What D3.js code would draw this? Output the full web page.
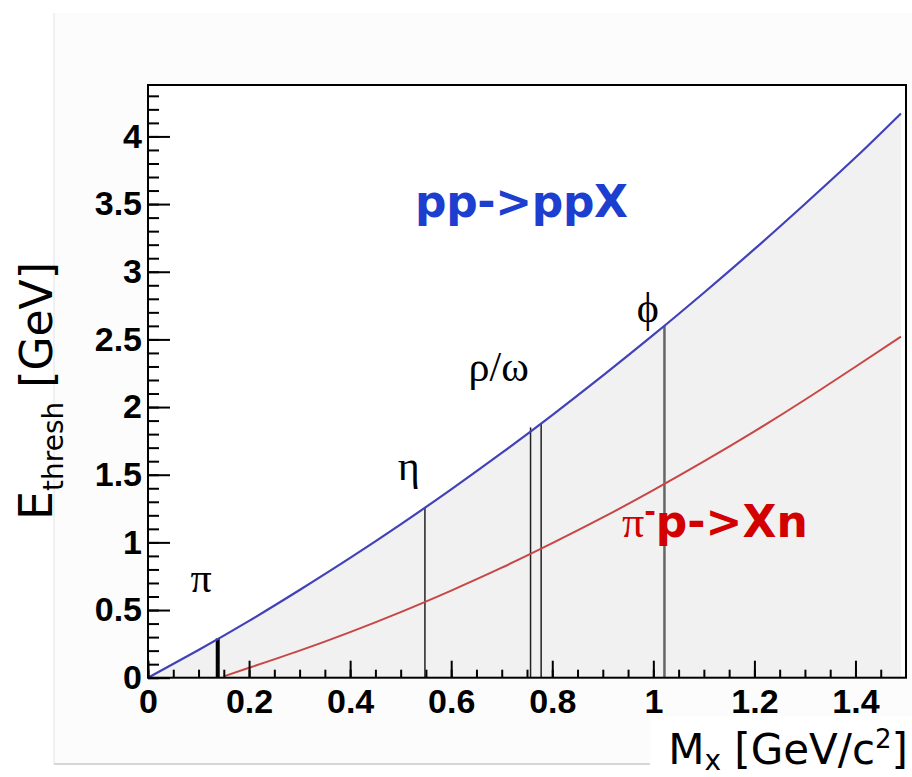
<!DOCTYPE html>
<html>
<head>
<meta charset="utf-8">
<script src="https://cdn.jsdelivr.net/npm/d3@7"></script>
<style>
  body { margin: 0; background: #fff; }
  svg { display: block; }
</style>
</head>
<body>
<div id="chart"></div>
<script>
// threshold kinetic energy vs produced mass
const ppMass = [0, 0.1, 0.2, 0.3, 0.4, 0.5, 0.6, 0.7, 0.8, 0.9, 1.0, 1.1, 1.2, 1.3, 1.4, 1.49];
const ppThresh = [0, 0.205, 0.42, 0.648, 0.885, 1.133, 1.392, 1.661, 1.941, 2.232, 2.533, 2.845, 3.167, 3.501, 3.844, 4.17];

const pimMass = [0.15, 0.2, 0.3, 0.4, 0.5, 0.6, 0.7, 0.8, 0.9, 1.0, 1.1, 1.2, 1.3, 1.4, 1.49];
const pimThresh = [0.01, 0.073, 0.2, 0.337, 0.485, 0.644, 0.813, 0.994, 1.184, 1.386, 1.598, 1.82, 2.054, 2.298, 2.52];

// meson markers (mass, height of the line = pp threshold)
const mesonNames = ["π", "η", "ρ", "ω", "ϕ"];
const mesonMass = [0.138, 0.548, 0.757, 0.778, 1.022];
const mesonTop = [0.29, 1.26, 1.85, 1.88, 2.6];

const xMajor = [0, 0.2, 0.4, 0.6, 0.8, 1, 1.2, 1.4];
const yMajor = [0, 0.5, 1, 1.5, 2, 2.5, 3, 3.5, 4];

const width = 912;
const height = 777;
const margin = { left: 148, top: 85, right: 6, bottom: 100 };

const svg = d3.select("#chart")
    .append("svg")
    .attr("width", width)
    .attr("height", height);

// faint slide panel behind the plot
svg.append("rect")
    .attr("x", 54).attr("y", 13)
    .attr("width", width - 54).attr("height", 751)
    .attr("fill", "#fcfcfc");
svg.append("line")
    .attr("x1", 54).attr("x2", 54).attr("y1", 13).attr("y2", 764)
    .attr("stroke", "#e2e2e2");
svg.append("line")
    .attr("x1", 54).attr("x2", 650).attr("y1", 764).attr("y2", 764)
    .attr("stroke", "#c8c8c8").attr("stroke-width", 1.5);
svg.append("rect")
    .attr("x", 650).attr("y", 716)
    .attr("width", width - 650).attr("height", height - 716)
    .attr("fill", "#fff");

const x = d3.scaleLinear()
    .domain([0, 1.5])
    .range([margin.left, width - margin.right]);

const y = d3.scaleLinear()
    .domain([0, 4.38])
    .range([677.7, margin.top]);

svg.append("rect")
    .attr("x", x(0)).attr("y", y(4.38))
    .attr("width", x(1.5) - x(0)).attr("height", y(0) - y(4.38))
    .attr("fill", "#fff");

const ppData = ppMass.map((m, i) => ({ m, e: ppThresh[i] }));
const pimData = pimMass.map((m, i) => ({ m, e: pimThresh[i] }));

// shaded region under the pp curve
const area = d3.area()
    .x((d) => x(d.m))
    .y0(y(0))
    .y1((d) => y(d.e))
    .curve(d3.curveNatural);

svg.append("path")
    .datum(ppData)
    .attr("d", area)
    .attr("fill", "#f1f1f1");

// meson lines
const mesons = mesonNames.map((name, i) => ({ name, m: mesonMass[i], top: mesonTop[i] }));
svg.selectAll(".meson")
    .data(mesons)
    .enter()
    .append("line")
    .attr("class", "meson")
    .attr("x1", (d) => x(d.m))
    .attr("x2", (d) => x(d.m))
    .attr("y1", y(0))
    .attr("y2", (d) => y(d.top))
    .attr("stroke", (d) => (d.name === "ϕ" ? "#666" : d.name === "π" ? "#000" : "#222"))
    .attr("stroke-width", (d) => (d.name === "π" ? 4 : d.name === "ϕ" ? 2.5 : 1.5));

const line = d3.line()
    .x((d) => x(d.m))
    .y((d) => y(d.e))
    .curve(d3.curveNatural);

svg.append("path")
    .datum(pimData)
    .attr("d", line)
    .attr("fill", "none")
    .attr("stroke", "#c84646")
    .attr("stroke-width", 2);

svg.append("path")
    .datum(ppData)
    .attr("d", line)
    .attr("fill", "none")
    .attr("stroke", "#4242b8")
    .attr("stroke-width", 2.2);

// axes, ticks pointing into the frame
const tickFont = "'Liberation Sans', Arial, sans-serif";

const xMinorAxis = d3.axisBottom(x)
    .tickValues(d3.range(0, 1.46, 0.05))
    .tickSize(-8)
    .tickFormat("");
const xAxis = d3.axisBottom(x)
    .tickValues(xMajor)
    .tickSize(-17)
    .tickPadding(11)
    .tickFormat((d) => String(d));

const yMinorAxis = d3.axisLeft(y)
    .tickValues(d3.range(0, 4.31, 0.1))
    .tickSize(-11)
    .tickFormat("");
const yAxis = d3.axisLeft(y)
    .tickValues(yMajor)
    .tickSize(-22)
    .tickPadding(6)
    .tickFormat((d) => String(d));

[xMinorAxis, xAxis].forEach((ax) => {
    svg.append("g")
        .attr("transform", `translate(0,${y(0)})`)
        .call(ax)
        .call((g) => g.select(".domain").remove())
        .call((g) => g.selectAll("line").attr("stroke", "#000").attr("stroke-width", 2));
});
[yMinorAxis, yAxis].forEach((ax) => {
    svg.append("g")
        .attr("transform", `translate(${x(0)},0)`)
        .call(ax)
        .call((g) => g.select(".domain").remove())
        .call((g) => g.selectAll("line").attr("stroke", "#000").attr("stroke-width", 2));
});

svg.selectAll(".tick text")
    .style("font-family", tickFont)
    .style("font-size", "34px")
    .style("font-weight", "bold")
    .attr("fill", "#000");

// frame
svg.append("rect")
    .attr("x", x(0)).attr("y", y(4.38))
    .attr("width", x(1.5) - x(0)).attr("height", y(0) - y(4.38))
    .attr("fill", "none")
    .attr("stroke", "#000")
    .attr("stroke-width", 2);

// meson labels
const greekFont = "'Liberation Serif', 'Times New Roman', serif";
const mesonLabels = [
    { t: "π", m: 0.105, e: 0.63 },
    { t: "η", m: 0.516, e: 1.46 },
    { t: "ρ/ω", m: 0.694, e: 2.19 },
    { t: "ϕ", m: 0.989, e: 2.63 }
];
svg.selectAll(".mlabel")
    .data(mesonLabels)
    .enter()
    .append("text")
    .attr("class", "mlabel")
    .attr("x", (d) => x(d.m))
    .attr("y", (d) => y(d.e))
    .attr("text-anchor", "middle")
    .style("font-family", greekFont)
    .style("font-size", "42px")
    .text((d) => d.t);

// reaction labels
const handFont = "'DejaVu Sans', Verdana, sans-serif";
svg.append("text")
    .attr("x", 415)
    .attr("y", 217)
    .attr("textLength", 213)
    .style("font-family", handFont)
    .style("font-size", "44px")
    .style("font-weight", "bold")
    .attr("fill", "#1c3fd0")
    .text("pp->ppX");

const red = svg.append("text")
    .attr("x", 622)
    .attr("y", 537)
    .style("font-family", handFont)
    .style("font-size", "44px")
    .style("font-weight", "bold")
    .attr("fill", "#d20000");
red.append("tspan")
    .style("font-family", greekFont)
    .style("font-weight", "normal")
    .text("π");
red.append("tspan")
    .attr("dy", -16)
    .style("font-size", "28px")
    .text("-");
red.append("tspan")
    .attr("dy", 16)
    .text("p->Xn");

// axis titles
const yTitle = svg.append("text")
    .attr("transform", "translate(52,520) rotate(-90)")
    .style("font-family", handFont)
    .style("font-size", "46px")
    .attr("fill", "#000");
yTitle.append("tspan").text("E");
yTitle.append("tspan").attr("dy", 11).style("font-size", "28px").text("thresh");
yTitle.append("tspan").attr("dy", -11).style("font-size", "44px").text(" [GeV]");

const xTitle = svg.append("text")
    .attr("x", 908)
    .attr("y", 764)
    .attr("text-anchor", "end")
    .style("font-family", handFont)
    .style("font-size", "42px")
    .attr("fill", "#000");
xTitle.append("tspan").text("M");
xTitle.append("tspan").attr("dy", 6).style("font-size", "28px").text("x");
xTitle.append("tspan").attr("dy", -6).text(" [GeV/c");
xTitle.append("tspan").attr("dy", -16).style("font-size", "26px").text("2");
xTitle.append("tspan").attr("dy", 16).text("]");
</script>
</body>
</html>
